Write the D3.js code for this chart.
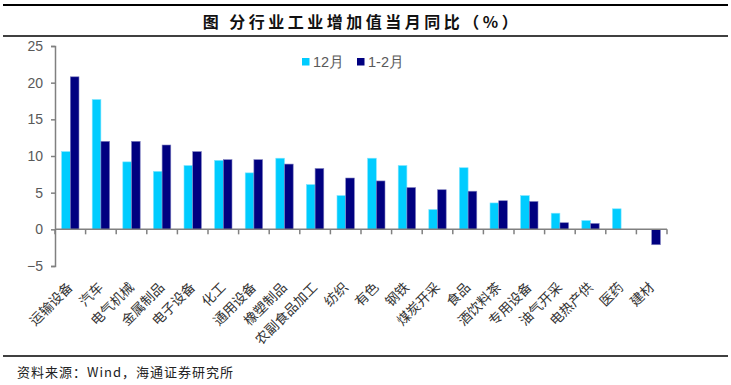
<!DOCTYPE html>
<html><head><meta charset="utf-8">
<script src="https://cdn.jsdelivr.net/npm/d3@7/dist/d3.min.js"></script>
<style>body{margin:0;background:#fff;}svg{display:block;}</style>
</head><body>
<svg id="c" width="731" height="385"></svg>
<script>
const categories = ["运输设备","汽车","电气机械","金属制品","电子设备","化工","通用设备","橡塑制品","农副食品加工","纺织","有色","钢铁","煤炭开采","食品","酒饮料茶","专用设备","油气开采","电热产供","医药","建材"];
const seriesNames = ["12月","1-2月"];
const dec = [10.6,17.7,9.2,7.9,8.7,9.4,7.7,9.7,6.1,4.6,9.7,8.7,2.7,8.4,3.6,4.6,2.2,1.2,2.8,0];
const janFeb = [20.8,12.0,12.0,11.5,10.6,9.5,9.5,8.9,8.3,7.0,6.6,5.7,5.4,5.2,3.9,3.8,0.9,0.8,0,-2.1];
const yTicks = [-5,0,5,10,15,20,25];
const colors = ["#00CCFF","#000080"];
const title = "图 分行业工业增加值当月同比（%）";
const source = "资料来源：Wind，海通证券研究所";

const svg = d3.select("#c");
const axisColor = "#808080";

// frame lines
svg.append("line").attr("x1",3).attr("x2",728).attr("y1",5).attr("y2",5).attr("stroke","#000").attr("stroke-width",2);
svg.append("line").attr("x1",3).attr("x2",728).attr("y1",36).attr("y2",36).attr("stroke","#000").attr("stroke-width",1.5);
svg.append("line").attr("x1",3).attr("x2",728).attr("y1",356).attr("y2",356).attr("stroke","#000").attr("stroke-width",1.5);

svg.append("text").attr("x",362).attr("y",21).attr("text-anchor","middle").attr("dominant-baseline","central")
  .attr("font-family","'Noto Sans CJK SC'").attr("font-size",16).attr("font-weight","bold")
  .attr("letter-spacing","3.5px").attr("fill","#111").text(title);

svg.append("text").attr("x",17).attr("y",371).attr("dominant-baseline","central")
  .attr("font-family","'Noto Sans CJK SC'").attr("font-size",13).attr("letter-spacing","1px")
  .attr("fill","#222").text(source);

const x = d3.scaleBand().domain(categories).range([55,667]).padding(0);
const y = d3.scaleLinear().domain([-5,25]).range([266,46]);
const xs = d3.scaleBand().domain(seriesNames).range([0,x.bandwidth()]).paddingInner(0).paddingOuter(0.76);

// y axis
const ya = svg.append("g").attr("transform","translate(55,0)")
  .call(d3.axisLeft(y).tickValues(yTicks).tickSize(4).tickPadding(8).tickFormat(d3.format("d")));
ya.select(".domain").attr("stroke",axisColor).attr("stroke-width",1.5);
ya.selectAll(".tick line").attr("stroke",axisColor).attr("stroke-width",1.5);
ya.selectAll(".tick text").attr("font-family","'Liberation Sans', Arial, sans-serif").attr("font-size",14).attr("fill","#595959");

// bars
const data = categories.map((c,i)=>({c, vals:[dec[i], janFeb[i]]}));
const g = svg.append("g");
data.forEach(d=>{
  d.vals.forEach((v,k)=>{
    if (v === 0) return;
    g.append("rect")
      .attr("x", x(d.c)+xs(seriesNames[k]))
      .attr("width", xs.bandwidth())
      .attr("y", y(Math.max(0,v)))
      .attr("height", Math.abs(y(v)-y(0)))
      .attr("fill", colors[k])
      .attr("stroke", k===0 ? "#7fe5ff" : "#8080c0")
      .attr("stroke-width", 0.6);
  });
});

// x axis
svg.append("line").attr("x1",55).attr("x2",667).attr("y1",y(0)).attr("y2",y(0)).attr("stroke",axisColor).attr("stroke-width",1.5);
const bounds = categories.map(c=>x(c)).concat([x.range()[1]]);
svg.append("g").selectAll("line").data(bounds).join("line")
  .attr("x1",d=>d).attr("x2",d=>d).attr("y1",y(0)).attr("y2",y(0)+5)
  .attr("stroke",axisColor).attr("stroke-width",1.5);

// x labels
svg.append("g").selectAll("text").data(categories).join("text")
  .attr("transform", d=>`translate(${x(d)+x.bandwidth()/2-1},${284}) rotate(-45)`)
  .attr("text-anchor","end").attr("dominant-baseline","central")
  .attr("font-family","'Noto Sans CJK SC'").attr("font-size",13.5).attr("fill","#333")
  .text(d=>d);

// legend
const lg = svg.append("g");
const lx = [302, 357];
seriesNames.forEach((s,k)=>{
  lg.append("rect").attr("x",lx[k]).attr("y",58).attr("width",7.5).attr("height",7.5).attr("fill",colors[k]);
  lg.append("text").attr("x",lx[k]+11).attr("y",62).attr("dominant-baseline","central")
    .attr("font-family","'Liberation Sans', Arial, sans-serif").attr("font-size",14.5).attr("fill","#595959").text(s);
});
</script>
</body></html>
